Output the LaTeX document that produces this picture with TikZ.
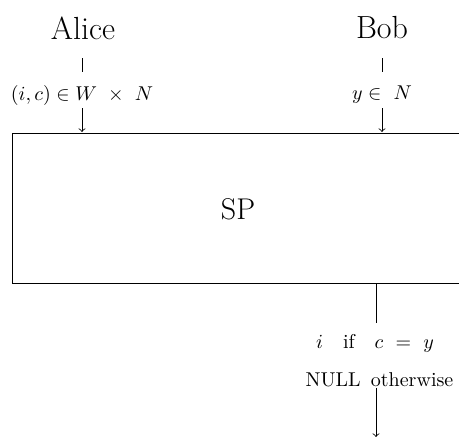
\documentclass[tikz,border=0pt]{standalone}
\usepackage{amsmath}
\tikzset{
  px/.style={x=0.5pt,y=-0.5pt},
  party/.style={font=\fontsize{16}{19}\selectfont, inner sep=0pt},
  lab/.style={fill=white, inner sep=0pt, font=\normalsize},
  flow/.style={->, line width=0.4pt}
}
\begin{document}
\begin{tikzpicture}[px]
\clip (0,0) rectangle (459,436);
\node[party] (alice) at (83,28) {Alice};
\node[party] (bob) at (382,28) {Bob};
\draw (12,133) rectangle (480,283);
\node[font=\fontsize{15}{18}\selectfont] (sp) at (238,209) {SP};
\coordinate (a1) at (82,58);
\coordinate (a2) at (82,132);
\coordinate (b1) at (382,58);
\coordinate (b2) at (382,132);
\coordinate (o1) at (376,283);
\coordinate (o2) at (376,437);
\draw[flow] (a1) -- (a2);
\draw[flow] (b1) -- (b2);
\draw[flow] (o1) -- (o2);
\node[lab, minimum height=18pt, minimum width=10pt] (ma) at (82,90) {};
\node[lab, minimum height=18pt, minimum width=10pt] (mb) at (382,90) {};
\node[inner sep=0pt] (la) at (82,95) {$(i,c)\in W\ \times\ N$};
\node[inner sep=0pt] (lb) at (382,95) {$y\in\ N$};
\node[lab, minimum height=32.5pt, minimum width=10pt] (mo) at (376,355.5) {};
\node[font=\normalsize, inner sep=0pt] (t1) at (375,343) {$i\quad\text{if}\quad c\ =\ y$};
\node[font=\normalsize, inner sep=0pt] (t2) at (379.5,380) {NULL\hspace{1.8pt}\ otherwise};
\end{tikzpicture}
\end{document}
